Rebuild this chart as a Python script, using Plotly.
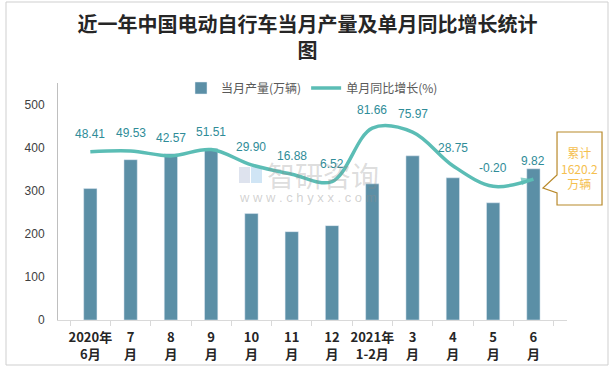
import plotly.graph_objects as go

categories = ["2020年<br>6月", "7<br>月", "8<br>月", "9<br>月", "10<br>月", "11<br>月",
              "12<br>月", "2021年<br>1-2月", "3<br>月", "4<br>月", "5<br>月", "6<br>月"]
production = [305, 372, 386, 398, 247, 205, 219, 316, 381, 330, 272, 351]
growth = [48.41, 49.53, 42.57, 51.51, 29.90, 16.88, 6.52, 81.66, 75.97, 28.75, -0.20, 9.82]
cumulative_text = "累计<br>1620.2<br>万辆"

W, H = 615, 368
L, R, T, B = 58, 48, 83, 48
PW, PH = W - L - R, H - T - B


def px(x):
    return (x - L) / PW


def py(y):
    return (H - B - y) / PH


BAR = "#5b8fa6"
LINE = "#5bbdb5"
LABEL = "#2f8c98"

fig = go.Figure()
fig.add_trace(go.Bar(x=categories, y=production, name="当月产量(万辆)",
                     marker=dict(color=BAR), width=0.33, yaxis="y"))

n = len(growth)
sizes = [11] + [0] * (n - 2) + [13]
colors = ["#f5b21f"] + [LINE] * (n - 2) + [LINE]
symbols = ["circle"] + ["circle"] * (n - 2) + ["arrow"]
fig.add_trace(go.Scatter(x=categories, y=growth, yaxis="y2", mode="lines+markers",
                         line=dict(color=LINE, width=3.5, shape="spline", smoothing=1.0),
                         marker=dict(size=sizes, color=colors, symbol=symbols,
                                     angleref="previous", line=dict(width=0)),
                         showlegend=False))
fig.add_trace(go.Scatter(x=[None], y=[None], yaxis="y2", mode="lines",
                         line=dict(color=LINE, width=3.5), name="单月同比增长(%)"))

annotations = []
for c, g in zip(categories, growth):
    annotations.append(dict(x=c, y=g, xref="x", yref="y2", text=f"{g:.2f}",
                            showarrow=False, yshift=18, xanchor="center",
                            font=dict(family="Liberation Sans, Arial", size=12, color=LABEL)))

# callout box text
annotations.append(dict(x=px(579.5), y=py(168), xref="paper", yref="paper",
                        xanchor="center", yanchor="middle",
                        text=cumulative_text, showarrow=False,
                        font=dict(family="Noto Sans CJK SC", size=12, color="#f5c04f")))
# watermark
annotations.append(dict(x=px(323), y=py(175), xref="paper", yref="paper", text="智研咨询",
                        showarrow=False, xanchor="center", yanchor="middle",
                        font=dict(family="Noto Sans CJK SC", size=28, color="rgba(140,140,140,0.3)")))
annotations.append(dict(x=px(308), y=py(197), xref="paper", yref="paper",
                        text="w w w . c h y x x . c o m", showarrow=False,
                        xanchor="center", yanchor="middle",
                        font=dict(family="Liberation Sans", size=13, color="rgba(140,140,140,0.4)")))

cp = [(557, 132), (602, 132), (602, 205), (557, 205), (557, 193), (543, 188), (557, 175)]
path = "M " + " L ".join(f"{px(a):.4f},{py(b):.4f}" for a, b in cp) + " Z"

shapes = [
    dict(type="path", xref="paper", yref="paper", path=path,
         line=dict(color="#b8892a", width=1.2), fillcolor="white"),
    dict(type="rect", xref="paper", yref="paper", x0=px(6), x1=px(608), y0=py(2), y1=py(365),
         line=dict(color="#cfcfcf", width=1), fillcolor="rgba(0,0,0,0)", layer="below"),
    # watermark logo blocks
    dict(type="rect", xref="paper", yref="paper", x0=px(239), x1=px(250), y0=py(183), y1=py(167),
         line=dict(width=0), fillcolor="rgba(160,175,205,0.35)", layer="below"),
    dict(type="rect", xref="paper", yref="paper", x0=px(251), x1=px(262), y0=py(183), y1=py(167),
         line=dict(width=0), fillcolor="rgba(120,180,225,0.35)", layer="below"),
]

fig.update_layout(
    width=W, height=H,
    margin=dict(l=L, r=R, t=T, b=B, autoexpand=False),
    paper_bgcolor="white", plot_bgcolor="white",
    title=dict(text="近一年中国电动自行车当月产量及单月同比增长统计<br>图",
               x=0.5, xanchor="center", y=1 - 32 / H, yanchor="top",
               font=dict(family="Noto Sans CJK SC", size=20, color="#262626", weight="bold")),
    legend=dict(orientation="h", x=px(312), xanchor="center", y=py(88), yanchor="middle",
                font=dict(family="Noto Sans CJK SC", size=12, color="#595959"),
                bgcolor="rgba(0,0,0,0)", traceorder="normal"),
    xaxis=dict(type="category", showline=True, linecolor="#d9d9d9", linewidth=1,
               ticks="outside", tickson="boundaries", ticklen=5, tickcolor="#d9d9d9",
               tickangle=0, automargin=False, ticklabelstandoff=5,
               tickfont=dict(family="Noto Sans CJK SC", size=13, color="#262626", weight="bold"),
               showgrid=False, zeroline=False),
    yaxis=dict(range=[0, 550], dtick=100, showgrid=False, zeroline=False,
               showline=True, linecolor="#bfbfbf", linewidth=1, ticks="", automargin=False,
               ticklabelstandoff=10,
               tickfont=dict(family="Liberation Sans, Arial", size=12, color="#404040")),
    yaxis2=dict(range=[-188, 145], overlaying="y", side="right", visible=False,
                showgrid=False, zeroline=False, automargin=False),
    annotations=annotations,
    shapes=shapes,
)

fig.write_html("out.html", config={"displayModeBar": False},
               post_script="document.body.style.margin='0';document.body.style.padding='0';")
